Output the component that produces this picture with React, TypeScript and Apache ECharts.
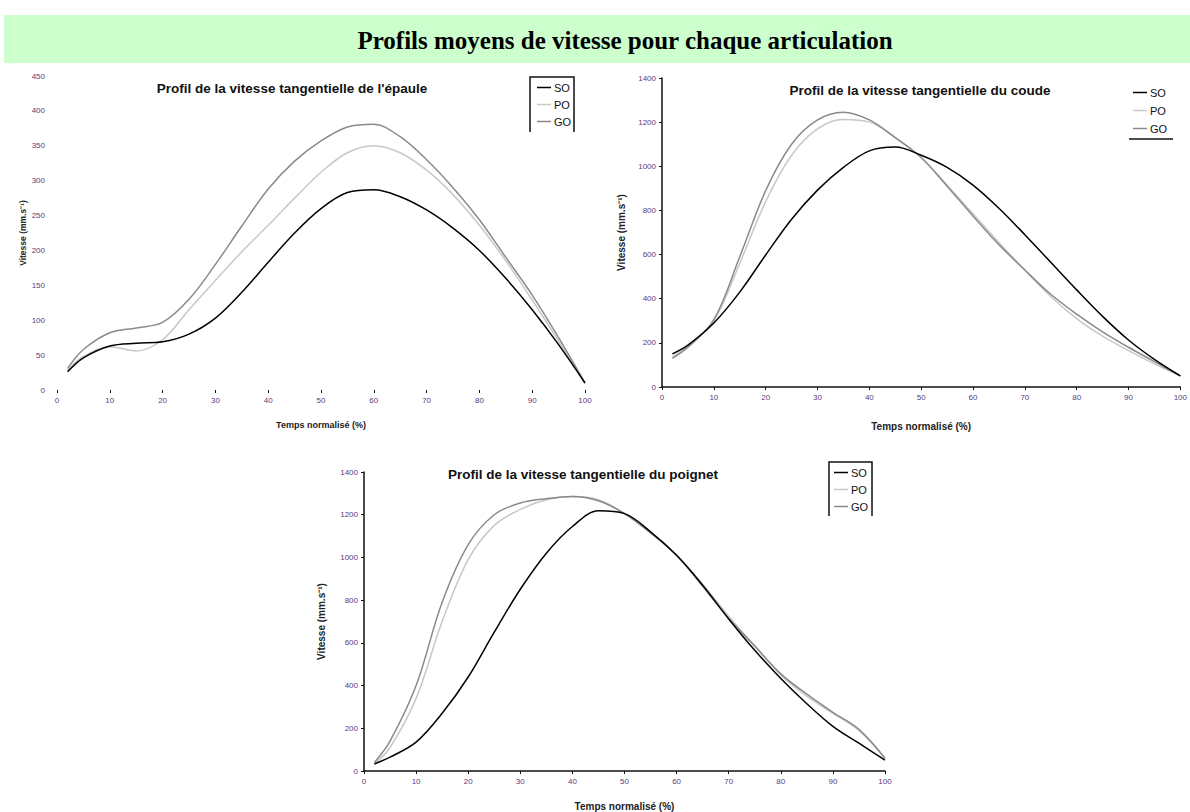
import React, { useEffect, useRef } from "react";
import * as echarts from "echarts";

const xs = [2, 5, 10, 15, 20, 25, 30, 35, 40, 45, 50, 55, 60, 65, 70, 75, 80, 85, 90, 95, 100];
const seriesNames = ["SO", "PO", "GO"];

// Épaule (shoulder)
const shoulderSO = [26, 46, 63, 67, 69, 80, 103, 140, 183, 225, 260, 283, 287, 277, 258, 232, 200, 160, 115, 65, 10];
const shoulderPO = [28, 48, 62, 56, 72, 115, 157, 198, 236, 275, 312, 340, 350, 340, 315, 280, 236, 185, 129, 70, 10];
const shoulderGO = [31, 58, 82, 89, 97, 130, 180, 235, 288, 328, 357, 377, 381, 363, 330, 290, 244, 190, 136, 75, 10];

// Coude (elbow)
const elbowSO = [150, 190, 290, 430, 598, 760, 892, 995, 1070, 1087, 1050, 995, 915, 810, 690, 565, 440, 320, 213, 125, 50];
const elbowPO = [136, 185, 300, 560, 840, 1050, 1170, 1212, 1200, 1130, 1040, 915, 785, 655, 530, 410, 310, 230, 165, 105, 50];
const elbowGO = [130, 180, 305, 590, 890, 1100, 1210, 1245, 1210, 1130, 1040, 910, 775, 645, 530, 420, 330, 250, 180, 115, 50];

// Poignet (wrist)
const wristSO = [33, 65, 135, 270, 440, 650, 851, 1020, 1145, 1218, 1205, 1120, 1010, 870, 712, 565, 433, 315, 209, 130, 51];
const wristPO = [33, 110, 340, 700, 990, 1150, 1225, 1270, 1285, 1270, 1205, 1115, 1010, 875, 725, 585, 450, 350, 270, 190, 60];
const wristGO = [40, 140, 400, 790, 1060, 1200, 1255, 1275, 1285, 1265, 1205, 1115, 1010, 865, 715, 585, 455, 360, 275, 195, 60];

const mainTitle = "Profils moyens de vitesse pour chaque articulation";
const chartTitles = [
  "Profil de la vitesse tangentielle de l'épaule",
  "Profil de la vitesse tangentielle du coude",
  "Profil de la vitesse tangentielle du poignet",
];
const xName = "Temps normalisé (%)";
const yName = "Vitesse (mm.s⁻¹)";

const colors = ["#000000", "#c8c8c8", "#8a8a8a"];
const labelColor = "#5b3a7a";

export default function App() {
  const ref = useRef<HTMLDivElement>(null);
  useEffect(() => {
    if (!ref.current) return;
    const chart = echarts.init(ref.current, null, { renderer: "svg" });
    const groups = [
      [shoulderSO, shoulderPO, shoulderGO],
      [elbowSO, elbowPO, elbowGO],
      [wristSO, wristPO, wristGO],
    ];
    const grids = [
      { left: 57, right: 605, top: 76, bottom: 422 },
      { left: 662, right: 8, top: 78, bottom: 425 },
      { left: 364, right: 305, top: 472, bottom: 39 },
    ];
    const yMax = [450, 1400, 1400];
    const yInt = [50, 200, 200];
    const showLine = [false, true, true];
    const xGap = [30, 34, 30];
    const yGap = [27, 36, 38];

    const series: any[] = [];
    groups.forEach((g, gi) => {
      g.forEach((vals, si) => {
        series.push({
          type: "line",
          name: seriesNames[si],
          xAxisIndex: gi,
          yAxisIndex: gi,
          smooth: 0.35,
          symbol: "none",
          lineStyle: { color: colors[si], width: 1.5 },
          itemStyle: { color: colors[si] },
          data: xs.map((x, i) => [x, vals[i]]),
          z: si === 0 ? 5 : si === 2 ? 4 : 3,
        });
      });
    });

    const legendPos = [
      { left: 537, top: 82, gap: 6 },
      { left: 1133, top: 87, gap: 7 },
      { left: 834, top: 467, gap: 6 },
    ];

    const option: any = {
      animation: false,
      backgroundColor: "#ffffff",
      title: chartTitles.map((t, i) => ({
        text: t,
        left: [287, 915, 578][i],
        top: [76, 78, 462][i],
        textAlign: "center",
        textStyle: { fontFamily: "Liberation Sans, Arial", fontWeight: "bold", fontSize: 13.5, color: "#111" },
      })),
      legend: legendPos.map((p) => ({
        data: seriesNames,
        orient: "vertical",
        left: p.left,
        top: p.top,
        itemGap: p.gap,
        itemWidth: 14,
        itemHeight: 1.5,
        icon: "rect",
        padding: 0,
        selectedMode: false,
        textStyle: { fontFamily: "Liberation Sans, Arial", fontSize: 11, color: "#111", padding: [0, 0, 0, -2] },
      })),
      grid: grids.map((g) => ({ ...g, containLabel: false })),
      xAxis: grids.map((_, i) => ({
        type: "value",
        gridIndex: i,
        min: 0,
        max: 100,
        interval: 10,
        name: xName,
        nameLocation: "middle",
        nameGap: xGap[i],
        nameTextStyle: { fontFamily: "Liberation Sans, Arial", fontWeight: "bold", fontSize: i === 0 ? 9 : 10, color: "#222" },
        axisLine: { show: showLine[i], lineStyle: { color: "#111", width: 1.5 } },
        axisTick: { show: true, length: 3, inside: false, lineStyle: { color: "#111" } },
        axisLabel: { fontSize: 8, color: labelColor, fontFamily: "Liberation Sans, Arial", margin: 6 },
        splitLine: { show: false },
      })),
      yAxis: grids.map((_, i) => ({
        type: "value",
        gridIndex: i,
        min: 0,
        max: yMax[i],
        interval: yInt[i],
        name: yName,
        nameLocation: "middle",
        nameGap: yGap[i],
        nameRotate: 90,
        nameTextStyle: { fontFamily: "Liberation Sans, Arial", fontWeight: "bold", fontSize: i === 0 ? 8.5 : 10, color: "#222" },
        axisLine: { show: showLine[i], lineStyle: { color: "#111", width: 1.5 } },
        axisTick: { show: showLine[i], length: 3, lineStyle: { color: "#111" } },
        axisLabel: {
          fontSize: 8,
          color: labelColor,
          fontFamily: "Liberation Sans, Arial",
          margin: i === 0 ? 12 : 6,
          formatter: (v: number) => String(v),
        },
        splitLine: { show: false },
      })),
      graphic: [
        { type: "rect", shape: { x: 4, y: 15, width: 1190, height: 48 }, style: { fill: "#ccffcc" }, z: -10 },
        {
          type: "text",
          x: 625,
          y: 40,
          style: {
            text: mainTitle,
            font: "bold 25px 'Liberation Serif', 'Times New Roman', serif",
            fill: "#000",
            align: "center",
            verticalAlign: "middle",
          },
        },
        { type: "polyline", shape: { points: [[530, 132], [530, 77], [574, 77], [574, 132]] }, style: { stroke: "#111", lineWidth: 1.5, fill: "none" } },
        { type: "line", shape: { x1: 1129, y1: 139, x2: 1173, y2: 139 }, style: { stroke: "#111", lineWidth: 1.5 } },
        { type: "polyline", shape: { points: [[829, 516], [829, 462], [872, 462], [872, 516]] }, style: { stroke: "#111", lineWidth: 1.5, fill: "none" } },
      ],
      series,
    };
    chart.setOption(option);
    return () => chart.dispose();
  }, []);
  return <div ref={ref} style={{ position: "absolute", left: 0, top: 0, width: 1190, height: 812 }} />;
}
